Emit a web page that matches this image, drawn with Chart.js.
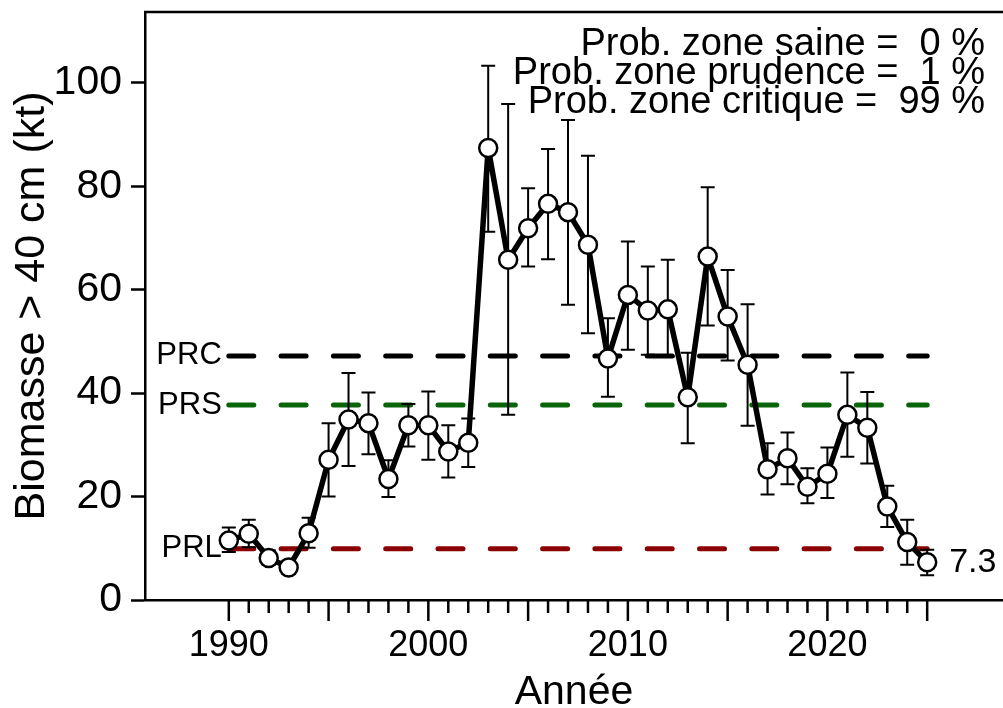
<!DOCTYPE html>
<html><head><meta charset="utf-8">
<script src="https://cdn.jsdelivr.net/npm/chart.js@4"></script>
<style>html,body{margin:0;padding:0;background:#fff;overflow:hidden}#wrap{width:1003px;height:708px}</style>
</head><body><div id="wrap"><canvas id="c" width="1003" height="708"></canvas></div>
<script>
// ---- data ----
const years = [1990,1991,1992,1993,1994,1995,1996,1997,1998,1999,2000,2001,2002,2003,2004,2005,2006,2007,2008,2009,2010,2011,2012,2013,2014,2015,2016,2017,2018,2019,2020,2021,2022,2023,2024,2025];
const biomass = [11.5,12.8,8.1,6.3,12.9,27.1,34.9,34.2,23.4,33.8,33.8,28.7,30.4,87.4,65.8,71.9,76.6,75.0,68.7,46.7,59.0,56.0,56.2,39.2,66.4,54.8,45.5,25.3,27.4,21.9,24.4,35.8,33.3,18.1,11.2,7.3];
const lower   = [9.3,10.2,6.8,5.2,10.1,20.0,25.9,28.2,19.9,29.7,27.1,23.7,25.7,71.2,35.8,64.5,65.9,57.1,51.6,39.3,48.4,47.4,47.1,30.3,53.1,46.3,33.7,20.4,22.4,18.7,19.7,27.7,26.4,14.1,6.8,4.8];
const upper   = [14.0,15.5,9.6,7.6,15.9,34.2,43.9,40.1,27.0,37.9,40.3,33.8,35.1,103.3,95.9,79.6,87.2,92.8,85.9,54.5,69.3,64.5,65.8,47.8,79.8,63.8,57.2,30.3,32.4,25.5,29.5,44.0,40.2,22.1,15.5,9.7];
const refNames  = ['PRC','PRS','PRL'];
const refValues = [47.2, 37.7, 9.9];
const refColors = ['#000000','#0a640a','#8b0000'];
const probLines = ['Prob. zone saine =  0 %','Prob. zone prudence =  1 %','Prob. zone critique =  99 %'];
const yTickValues = [0,20,40,60,80,100];
const xLabelYears = [1990,2000,2010,2020];
const lastLabel = '7.3';
const xTitle = 'Année';
const yTitle = 'Biomasse > 40 cm (kt)';

const FONT = '"Liberation Sans", Arial, sans-serif';

const refDatasets = refValues.map((v, k) => ({
  label: refNames[k],
  data: [{x: years[0], y: v}, {x: years[years.length - 1], y: v}],
  borderColor: refColors[k], borderWidth: 5, borderDash: [25, 27.3], borderCapStyle: 'round',
  pointRadius: 0, order: 1
}));

const extras = {
  id: 'extras',
  beforeDatasetDraw(chart, args) {
    if (args.index !== 0) return;
    const {ctx, scales: {x, y}} = chart;
    ctx.save();
    ctx.strokeStyle = '#000';
    ctx.lineWidth = 2;
    years.forEach((yr, i) => {
      const px = x.getPixelForValue(yr);
      const t = y.getPixelForValue(upper[i]);
      const b = y.getPixelForValue(lower[i]);
      ctx.beginPath();
      ctx.moveTo(px, t); ctx.lineTo(px, b);
      ctx.moveTo(px - 7, t); ctx.lineTo(px + 7, t);
      ctx.moveTo(px - 7, b); ctx.lineTo(px + 7, b);
      ctx.stroke();
    });
    ctx.restore();
  },
  afterDraw(chart) {
    const {ctx, chartArea: ca, scales: {x, y}} = chart;
    ctx.save();
    ctx.strokeStyle = '#000';
    ctx.lineWidth = 2.5;
    ctx.beginPath();
    ctx.moveTo(ca.left - 1, ca.top); ctx.lineTo(ca.right, ca.top);
    ctx.stroke();
    years.forEach(yr => {
      const px = x.getPixelForValue(yr);
      const len = yr % 5 === 0 ? 21 : 13;
      ctx.beginPath();
      ctx.moveTo(px, ca.bottom); ctx.lineTo(px, ca.bottom + len);
      ctx.stroke();
    });
    ctx.fillStyle = '#000';
    ctx.font = '31px ' + FONT;
    ctx.textAlign = 'right';
    ctx.textBaseline = 'middle';
    refValues.forEach((v, k) => {
      ctx.fillText(refNames[k], x.getPixelForValue(years[0]) - 7, y.getPixelForValue(v));
    });
    ctx.font = '34px ' + FONT;
    ctx.textAlign = 'left';
    const li = years.length - 1;
    ctx.fillText(lastLabel, x.getPixelForValue(years[li]) + 22, y.getPixelForValue(biomass[li]));
    ctx.font = '38px ' + FONT;
    ctx.textAlign = 'right';
    ctx.textBaseline = 'alphabetic';
    probLines.forEach((s, k) => ctx.fillText(s, 985, 55 + k * 29));
    ctx.restore();
  }
};

new Chart(document.getElementById('c'), {
  type: 'line',
  data: {
    datasets: [{
      label: 'Biomasse',
      data: years.map((yr, i) => ({x: yr, y: biomass[i]})),
      borderColor: '#000', borderWidth: 5.5, borderJoinStyle: 'round', tension: 0,
      pointRadius: 9, pointBorderWidth: 2.5, pointBackgroundColor: '#fff', pointBorderColor: '#000',
      order: 0
    }, ...refDatasets]
  },
  options: {
    responsive: false,
    devicePixelRatio: 1,
    animation: false,
    layout: {autoPadding: false, padding: {top: 12, left: 0, right: 0, bottom: 0}},
    plugins: {legend: {display: false}, tooltip: {enabled: false}},
    scales: {
      x: {
        type: 'linear', position: 'bottom', min: 1985.8, max: 2028.8,
        afterBuildTicks: s => { s.ticks = years.map(v => ({value: v})); },
        afterFit: s => { s.height = 108; s.paddingLeft = 0; s.paddingRight = 0; },
        grid: {display: false, drawTicks: false, tickLength: 0},
        border: {display: true, color: '#000', width: 2.5},
        ticks: {
          autoSkip: false, maxRotation: 0, padding: 24, color: '#000',
          font: {family: FONT, size: 36, lineHeight: 1.2},
          callback: v => xLabelYears.includes(v) ? String(v) : ''
        },
        title: {display: true, text: xTitle, color: '#000',
          font: {family: FONT, size: 41, lineHeight: 0.6}, padding: {top: 0, bottom: 3}}
      },
      y: {
        min: 0, max: 113.7,
        afterBuildTicks: s => { s.ticks = yTickValues.map(v => ({value: v})); },
        afterFit: s => { s.width = 145; s.paddingTop = 0; s.paddingBottom = 0; },
        grid: {display: true, drawOnChartArea: false, drawTicks: true, tickLength: 14, tickWidth: 2.5, tickColor: '#000'},
        border: {display: true, color: '#000', width: 2.5},
        ticks: {padding: 9, color: '#000', font: {family: FONT, size: 41}, callback: v => String(v)},
        title: {display: true, text: yTitle, color: '#000',
          font: {family: FONT, size: 43, lineHeight: 1.2}, padding: {top: 6, bottom: 0}}
      }
    }
  },
  plugins: [extras]
});
</script></body></html>
